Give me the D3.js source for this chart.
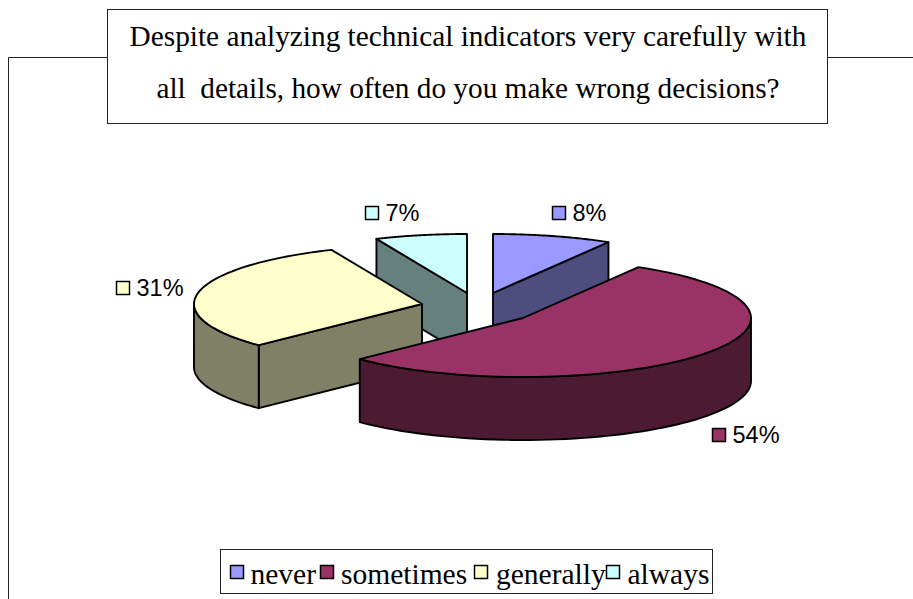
<!DOCTYPE html>
<html>
<head>
<meta charset="utf-8">
<script src="https://cdn.jsdelivr.net/npm/d3@7"></script>
<style>html,body{margin:0;padding:0;background:#fff;overflow:hidden}svg{display:block}</style>
</head>
<body>
<svg id="c" width="913" height="599"></svg>
<script>
const categories = ["never", "sometimes", "generally", "always"];
const seriesValues = [8.45, 54.25, 30.8, 6.5];
const percentLabels = ["8%", "54%", "31%", "7%"];
const titleLines = ["Despite analyzing technical indicators very carefully with", "all  details, how often do you make wrong decisions?"];
const topColors = ["#9999ff", "#993366", "#ffffcc", "#ccffff"];
const sideColors = ["#4d4d80", "#4d1a33", "#808066", "#668080"];
const apexes = [[493, 293], [523, 318], [422, 304], [467, 293]];
const labelAnchors = [[552, 206], [712, 428], [116, 281], [365, 206]];
const legendSwatchX = [230, 320, 474, 606];
const legendTextX = [250.5, 341, 496, 627.5];

const svg = d3.select("#c");
const serif = "'Liberation Serif','Times New Roman',serif";
const sans = "'Liberation Sans',Arial,sans-serif";

// Frame of the chart area
svg.append("path").attr("d", "M8.5,599V57.5H107M828,57.5H913").attr("fill", "none").attr("stroke", "#222").attr("stroke-width", 1);

// Title box
svg.append("rect").attr("x", 107.5).attr("y", 9.5).attr("width", 720).attr("height", 114)
  .attr("fill", "#fff").attr("stroke", "#222").attr("stroke-width", 1);
svg.selectAll("text.title").data(titleLines).join("text").attr("class", "title")
  .attr("x", 468).attr("y", (d, i) => 46 + i * 52).attr("text-anchor", "middle")
  .attr("font-family", serif).attr("font-size", 29.3).attr("fill", "#000")
  .style("white-space", "pre").text(d => d);

// Pie geometry
const depth = 63;
const px = d3.scaleLinear().domain([-1, 1]).range([-228, 228]);
const py = d3.scaleLinear().domain([-1, 1]).range([59, -59]);
const pie = d3.pie().sort(null)(seriesValues);
const line = d3.line().x(d => d[0]).y(d => d[1]);
const pt = (i, a, dy = 0) => [apexes[i][0] + px(Math.sin(a)), apexes[i][1] + py(Math.cos(a)) + dy];
const arcPts = (i, a0, a1, dy = 0) => d3.range(0, 61).map(k => pt(i, a0 + (a1 - a0) * k / 60, dy));

const g = svg.append("g").attr("stroke", "#000").attr("stroke-width", 1.9).attr("stroke-linejoin", "round");
const poly = (pts, fill) => g.append("path").attr("d", line(pts) + "Z").attr("fill", fill);
const cutFace = (i, a) => {
  const [cx, cy] = apexes[i];
  poly([[cx, cy], pt(i, a), pt(i, a, depth), [cx, cy + depth]], sideColors[i]);
};
const wall = (i, a0, a1) => poly(arcPts(i, a0, a1).concat(arcPts(i, a1, a0, depth)), sideColors[i]);
const topFace = (i) => poly([apexes[i]].concat(arcPts(i, pie[i].startAngle, pie[i].endAngle)), topColors[i]);

// Painter order: back slices first
cutFace(3, pie[3].startAngle); topFace(3);
cutFace(0, pie[0].endAngle); topFace(0);
cutFace(2, pie[2].startAngle);
wall(2, pie[2].startAngle, 3 * Math.PI / 2); topFace(2);
wall(1, Math.PI / 2, pie[1].endAngle); topFace(1);

// Data labels
const lab = svg.selectAll("g.lab").data(percentLabels).join("g").attr("class", "lab")
  .attr("transform", (d, i) => `translate(${labelAnchors[i][0]},${labelAnchors[i][1]})`);
lab.append("rect").attr("x", .5).attr("y", .5).attr("width", 13).attr("height", 13)
  .attr("fill", (d, i) => topColors[i]).attr("stroke", "#000").attr("stroke-width", 1.5);
lab.append("text").attr("x", 20.5).attr("y", 14.5).attr("font-family", sans).attr("font-size", 23.5).attr("fill", "#000").text(d => d);

// Legend
svg.append("rect").attr("x", 220.5).attr("y", 549.5).attr("width", 492).attr("height", 44)
  .attr("fill", "#fff").attr("stroke", "#222").attr("stroke-width", 1);
svg.selectAll("rect.sw").data(categories).join("rect").attr("class", "sw")
  .attr("x", (d, i) => legendSwatchX[i] + .5).attr("y", 565.5).attr("width", 13).attr("height", 13)
  .attr("fill", (d, i) => topColors[i]).attr("stroke", "#000").attr("stroke-width", 1.5);
svg.selectAll("text.lg").data(categories).join("text").attr("class", "lg")
  .attr("x", (d, i) => legendTextX[i]).attr("y", 584)
  .attr("font-family", serif).attr("font-size", 29.5).attr("fill", "#000").text(d => d);
</script>
</body>
</html>
